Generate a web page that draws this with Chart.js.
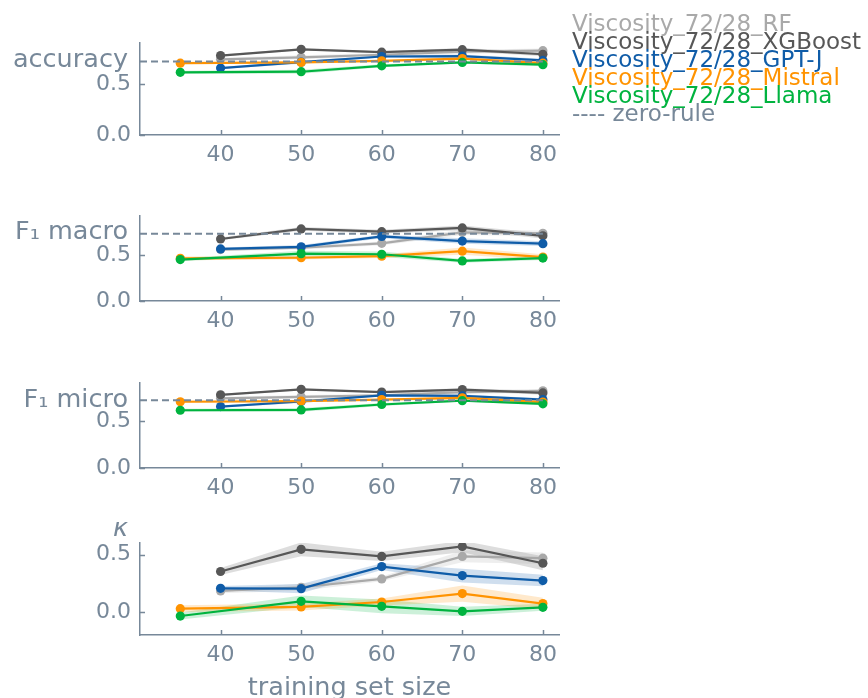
<!DOCTYPE html>
<html>
<head>
<meta charset="utf-8">
<script src="https://cdn.jsdelivr.net/npm/chart.js@4.4.0/dist/chart.umd.min.js"></script>
<style>
  html, body { margin: 0; padding: 0; background: #fff; width: 868px; height: 698px; overflow: hidden; }
  canvas { position: absolute; left: 0; }
</style>
</head>
<body>
<canvas id="p0"></canvas>
<canvas id="p1"></canvas>
<canvas id="p2"></canvas>
<canvas id="p3"></canvas>
<script>
// ---- data ----------------------------------------------------------------
const xsBase = [40, 50, 60, 70, 80];          // RF, XGBoost, GPT-J
const xsLLM  = [35, 50, 60, 70, 80];          // Mistral, Llama
const xTicks = [40, 50, 60, 70, 80];
const yTicks = [0.0, 0.5];

const modelNames = ['Viscosity_72/28_RF', 'Viscosity_72/28_XGBoost', 'Viscosity_72/28_GPT-J',
                    'Viscosity_72/28_Mistral', 'Viscosity_72/28_Llama'];
const modelColors = ['#a9a9a9', '#575757', '#0f5ca8', '#ff9300', '#00b33f'];
const modelUsesLLMSizes = [false, false, false, true, true];

const metricLabels = ['accuracy', 'F\u2081 macro', 'F\u2081 micro', '\u03ba'];
const zeroRule = [0.72, 0.73, 0.72, null];

// accuracy
const accRF      = [0.740, 0.760, 0.785, 0.815, 0.825];
const accXGB     = [0.777, 0.838, 0.810, 0.835, 0.790];
const accGPTJ    = [0.655, 0.712, 0.768, 0.772, 0.730];
const accMistral = [0.703, 0.710, 0.726, 0.748, 0.703];
const accLlama   = [0.613, 0.619, 0.677, 0.710, 0.688];
const accRFErr      = [0.015, 0.020, 0.015, 0.020, 0.020];
const accXGBErr     = [0.010, 0.010, 0.010, 0.015, 0.020];
const accGPTJErr    = [0.010, 0.015, 0.010, 0.015, 0.015];
const accMistralErr = [0.010, 0.010, 0.010, 0.015, 0.010];
const accLlamaErr   = [0.015, 0.020, 0.015, 0.010, 0.015];

// F1 macro
const macroRF      = [0.558, 0.578, 0.626, 0.745, 0.735];
const macroXGB     = [0.673, 0.782, 0.752, 0.793, 0.707];
const macroGPTJ    = [0.565, 0.588, 0.700, 0.650, 0.622];
const macroMistral = [0.463, 0.469, 0.486, 0.541, 0.476];
const macroLlama   = [0.449, 0.514, 0.507, 0.435, 0.466];
const macroRFErr      = [0.015, 0.020, 0.020, 0.030, 0.030];
const macroXGBErr     = [0.015, 0.020, 0.020, 0.025, 0.030];
const macroGPTJErr    = [0.015, 0.020, 0.020, 0.030, 0.025];
const macroMistralErr = [0.020, 0.020, 0.020, 0.040, 0.030];
const macroLlamaErr   = [0.015, 0.030, 0.030, 0.020, 0.020];

// F1 micro
const microRF      = [0.739, 0.755, 0.771, 0.806, 0.819];
const microXGB     = [0.777, 0.835, 0.806, 0.832, 0.797];
const microGPTJ    = [0.652, 0.706, 0.771, 0.765, 0.726];
const microMistral = [0.703, 0.710, 0.726, 0.745, 0.700];
const microLlama   = [0.613, 0.616, 0.674, 0.715, 0.681];
const microRFErr      = [0.015, 0.020, 0.015, 0.020, 0.020];
const microXGBErr     = [0.010, 0.010, 0.010, 0.015, 0.020];
const microGPTJErr    = [0.010, 0.015, 0.010, 0.015, 0.015];
const microMistralErr = [0.010, 0.010, 0.010, 0.015, 0.010];
const microLlamaErr   = [0.015, 0.020, 0.015, 0.010, 0.015];

// Cohen's kappa
const kappaRF      = [0.183, 0.215, 0.288, 0.483, 0.468];
const kappaXGB     = [0.352, 0.545, 0.483, 0.570, 0.424];
const kappaGPTJ    = [0.206, 0.203, 0.395, 0.317, 0.273];
const kappaMistral = [0.029, 0.044, 0.087, 0.160, 0.073];
const kappaLlama   = [-0.035, 0.093, 0.049, 0.006, 0.041];
const kappaRFErr      = [0.020, 0.030, 0.020, 0.050, 0.050];
const kappaXGBErr     = [0.030, 0.060, 0.040, 0.050, 0.060];
const kappaGPTJErr    = [0.020, 0.040, 0.030, 0.060, 0.050];
const kappaMistralErr = [0.030, 0.030, 0.030, 0.070, 0.050];
const kappaLlamaErr   = [0.030, 0.050, 0.060, 0.040, 0.030];

// ---- styling -------------------------------------------------------------
const SLATE = '#778899';
const FAMILY = '"DejaVu Sans", sans-serif';

const panels = [
  { values: [accRF, accXGB, accGPTJ, accMistral, accLlama],
    errors: [accRFErr, accXGBErr, accGPTJErr, accMistralErr, accLlamaErr],
    yMin: 0, yMax: 0.9, canvasTop: 0, padTop: 43, bottomH: 40, width: 868, labelDy: 24 },
  { values: [macroRF, macroXGB, macroGPTJ, macroMistral, macroLlama],
    errors: [macroRFErr, macroXGBErr, macroGPTJErr, macroMistralErr, macroLlamaErr],
    yMin: 0, yMax: 0.92, canvasTop: 194, padTop: 15, bottomH: 40, width: 600, labelDy: 23 },
  { values: [microRF, microXGB, microGPTJ, microMistral, microLlama],
    errors: [microRFErr, microXGBErr, microGPTJErr, microMistralErr, microLlamaErr],
    yMin: 0, yMax: 0.9, canvasTop: 361, padTop: 15, bottomH: 40, width: 600, labelDy: 24 },
  { values: [kappaRF, kappaXGB, kappaGPTJ, kappaMistral, kappaLlama],
    errors: [kappaRFErr, kappaXGBErr, kappaGPTJErr, kappaMistralErr, kappaLlamaErr],
    yMin: -0.2, yMax: 0.6, canvasTop: 513, padTop: 30, bottomH: 63, width: 600, labelDy: -7 }
];
const PLOT_H = 92;
const PLOT_LEFT = 140;
const PLOT_RIGHT = 559;

function rgba(hex, a) {
  const n = parseInt(hex.slice(1), 16);
  return `rgba(${(n >> 16) & 255},${(n >> 8) & 255},${n & 255},${a})`;
}
function points(xs, ys) { return xs.map((x, i) => ({ x, y: ys[i] })); }

function buildDatasets(p, idx) {
  const ds = [];
  // shaded spread bands (upper edge, then lower edge filled to it)
  modelNames.forEach((name, k) => {
    const xs = modelUsesLLMSizes[k] ? xsLLM : xsBase;
    const ys = p.values[k], es = p.errors[k];
    ds.push({ data: points(xs, ys.map((v, i) => v + es[i])), borderColor: 'rgba(0,0,0,0)',
              borderWidth: 0, pointRadius: 0, fill: false, order: 30 + k });
    ds.push({ data: points(xs, ys.map((v, i) => v - es[i])), borderColor: 'rgba(0,0,0,0)',
              borderWidth: 0, pointRadius: 0, fill: '-1', backgroundColor: rgba(modelColors[k], 0.2),
              order: 30 + k });
  });
  // mean lines with markers; later models sit on top
  modelNames.forEach((name, k) => {
    const xs = modelUsesLLMSizes[k] ? xsLLM : xsBase;
    ds.push({ label: name, data: points(xs, p.values[k]), borderColor: modelColors[k],
              backgroundColor: modelColors[k], borderWidth: 2.2, pointRadius: 4.6,
              pointBorderWidth: 0, pointBackgroundColor: modelColors[k], fill: false,
              order: 10 - k });
  });
  if (zeroRule[idx] !== null) {
    ds.push({ label: 'zero-rule', data: [{ x: 30, y: zeroRule[idx] }, { x: 80, y: zeroRule[idx] }],
              borderColor: SLATE, borderDash: [7, 4], borderWidth: 2, pointRadius: 0,
              fill: false, order: 0 });
  }
  return ds;
}

// axis decorations: inward tick marks, horizontal y label, x title, legend
const decor = {
  id: 'decor',
  afterDraw(chart, args, opts) {
    const { ctx, chartArea: a } = chart;
    const xs = chart.scales.x, ys = chart.scales.y;
    ctx.save();
    ctx.strokeStyle = SLATE;
    ctx.lineWidth = 1.5;
    ctx.beginPath();
    xs.ticks.forEach(t => {
      const px = Math.round(xs.getPixelForValue(t.value)) + 0.5;
      ctx.moveTo(px, a.bottom); ctx.lineTo(px, a.bottom - 5);
    });
    ys.ticks.forEach(t => {
      const py = Math.round(ys.getPixelForValue(t.value)) + 0.5;
      ctx.moveTo(a.left, py); ctx.lineTo(a.left + 5, py);
    });
    ctx.stroke();

    ctx.fillStyle = SLATE;
    ctx.textBaseline = 'alphabetic';
    ctx.textAlign = 'right';
    ctx.font = (opts.italic ? 'italic ' : '') + '25.5px ' + FAMILY;
    ctx.fillText(opts.label, a.left - 12, a.top + opts.labelDy);

    if (opts.xTitle) {
      ctx.textAlign = 'center';
      ctx.font = '25.5px ' + FAMILY;
      ctx.fillText(opts.xTitle, (a.left + a.right) / 2, a.bottom + 60);
    }
    if (opts.legend) {
      ctx.textAlign = 'left';
      ctx.font = '23px ' + FAMILY;
      const entries = modelNames.map((n, k) => [n, modelColors[k]]).concat([['---- zero-rule', SLATE]]);
      entries.forEach(([text, color], i) => {
        ctx.fillStyle = color;
        ctx.fillText(text, 572, 31 + i * 17.9);
      });
    }
    ctx.restore();
  }
};

panels.forEach((p, idx) => {
  const canvas = document.getElementById('p' + idx);
  const h = p.padTop + PLOT_H + p.bottomH;
  canvas.width = p.width;
  canvas.height = h;
  canvas.style.width = p.width + 'px';
  canvas.style.height = h + 'px';
  canvas.style.top = p.canvasTop + 'px';

  new Chart(canvas, {
    type: 'line',
    data: { datasets: buildDatasets(p, idx) },
    options: {
      responsive: false,
      animation: false,
      events: [],
      layout: { padding: { left: 0, right: p.width - PLOT_RIGHT, top: p.padTop, bottom: 0 } },
      plugins: {
        legend: { display: false },
        tooltip: { enabled: false },
        decor: { label: metricLabels[idx], labelDy: p.labelDy, italic: idx === 3,
                 xTitle: idx === 3 ? 'training set size' : null, legend: idx === 0 }
      },
      scales: {
        x: {
          type: 'linear', min: 30, max: 82,
          afterBuildTicks: s => { s.ticks = xTicks.map(v => ({ value: v })); },
          afterFit: s => { s.height = p.bottomH; },
          ticks: { color: SLATE, font: { family: FAMILY, size: 22 }, padding: 7,
                   maxRotation: 0, autoSkip: false, callback: v => String(v) },
          grid: { display: false, drawTicks: false },
          border: { display: true, color: SLATE, width: 1.5 }
        },
        y: {
          type: 'linear', min: p.yMin, max: p.yMax,
          afterBuildTicks: s => { s.ticks = yTicks.map(v => ({ value: v })); },
          afterFit: s => { s.width = PLOT_LEFT; },
          ticks: { color: SLATE, font: { family: FAMILY, size: 22 }, padding: 9,
                   callback: v => Number(v).toFixed(1) },
          grid: { display: false, drawTicks: false },
          border: { display: true, color: SLATE, width: 1.5 }
        }
      }
    },
    plugins: [decor]
  });
});
</script>
</body>
</html>
